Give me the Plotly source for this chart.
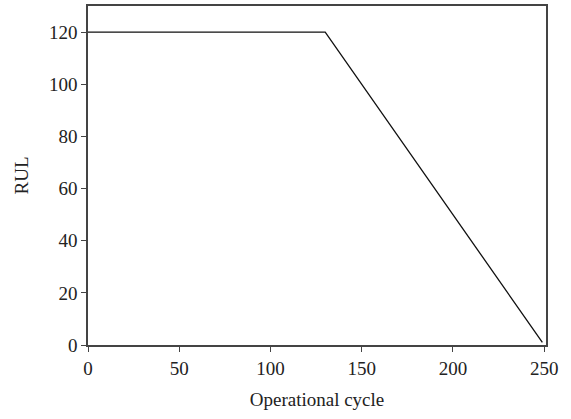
import plotly.graph_objects as go

cycles = [0, 130, 249]
rul = [120, 120, 1]
x_ticks = [0, 50, 100, 150, 200, 250]
y_ticks = [0, 20, 40, 60, 80, 100, 120]

fig = go.Figure()
fig.add_trace(go.Scatter(x=cycles, y=rul, mode="lines",
                         line=dict(color="#111111", width=1.3), showlegend=False))

axis_common = dict(showgrid=False, zeroline=False, showline=True, linecolor="#444444",
                   linewidth=1.5, mirror=True, ticks="outside", ticklen=5,
                   tickcolor="#444444", tickwidth=1.3,
                   tickfont=dict(family="Liberation Serif", size=19, color="#222222"),
                   title_font=dict(family="Liberation Serif", size=19, color="#222222"))

fig.update_layout(
    width=571, height=419,
    margin=dict(l=88, r=25, t=4, b=74),
    paper_bgcolor="white", plot_bgcolor="white",
    xaxis=dict(range=[0, 251], tickvals=x_ticks, title_text="Operational cycle",
               title_standoff=15, **axis_common),
    yaxis=dict(range=[0, 130], tickvals=y_ticks, title_text="RUL",
               title_standoff=15, **axis_common),
)

fig.write_html("out.html")
